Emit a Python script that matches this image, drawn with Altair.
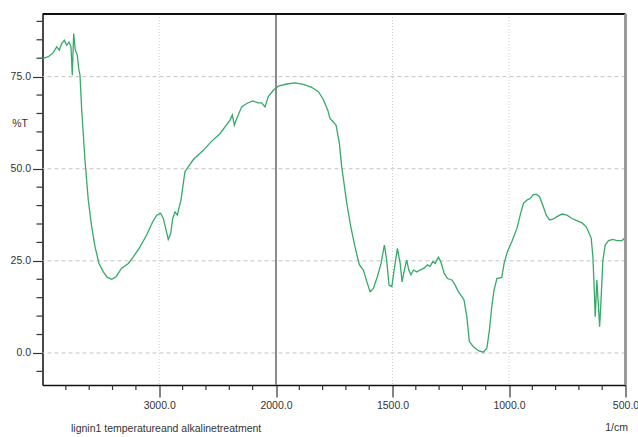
import altair as alt
import pandas as pd

# FTIR spectrum: wavenumber (1/cm) and transmittance (%T)
wavenumber = [
    4000, 3950, 3908, 3878, 3856, 3836, 3813, 3793, 3773, 3756,
    3745, 3733, 3719, 3702, 3690, 3679, 3664, 3636, 3608, 3579,
    3550, 3516, 3479, 3445, 3407, 3370, 3322, 3265, 3222, 3165,
    3108, 3056, 3022, 2988, 2965, 2942, 2923, 2902, 2885, 2865,
    2845, 2828, 2814, 2780, 2708, 2623, 2551, 2480, 2394, 2374,
    2357, 2337, 2294, 2251, 2200, 2152, 2123, 2094, 2066, 2023,
    1990, 1954, 1918, 1883, 1847, 1818, 1797, 1778, 1768, 1754,
    1742, 1728, 1718, 1704, 1696, 1679, 1661, 1642, 1625, 1610,
    1596, 1582, 1565, 1549, 1535, 1525, 1515, 1503, 1493, 1479,
    1467, 1459, 1449, 1439, 1430, 1421, 1410, 1396, 1382, 1364,
    1350, 1339, 1327, 1317, 1303, 1293, 1278, 1264, 1245, 1231,
    1217, 1202, 1193, 1181, 1170, 1153, 1131, 1110, 1095, 1084,
    1074, 1064, 1052, 1031, 1021, 1007, 988, 966, 952, 938,
    923, 909, 897, 883, 869, 855, 840, 826, 812, 794,
    773, 751, 730, 709, 687, 669, 659, 647, 640, 634,
    630, 626, 623, 617, 611, 605, 597, 587, 573, 554,
    537, 515, 500,
]
transmittance = [
    79.9, 80.4, 81.5, 83.1, 82.2, 84.0, 84.9, 83.5, 84.4, 83.1,
    75.4, 86.7, 82.2, 80.8, 77.2, 75.4, 65.9, 52.3, 41.5, 34.3,
    28.8, 24.3, 22.0, 20.5, 20.0, 20.7, 23.0, 24.3, 26.1, 28.8,
    32.0, 35.6, 37.4, 37.9, 36.5, 33.4, 30.8, 32.4, 36.5, 38.3,
    37.4, 39.7, 41.5, 49.2, 52.5, 55.0, 57.5, 59.5, 63.2, 64.6,
    61.8, 63.6, 66.8, 67.7, 68.4, 67.9, 67.9, 66.8, 69.6, 71.3,
    72.4, 73.0, 73.3, 72.9, 72.1, 70.9, 68.8, 65.9, 63.6, 62.7,
    61.8, 56.9, 50.5, 44.2, 40.5, 34.3, 28.8, 23.9, 22.5, 19.3,
    16.6, 17.5, 20.7, 24.3, 29.3, 25.2, 18.4, 18.0, 22.5, 28.4,
    24.3, 19.3, 22.5, 25.2, 22.5, 21.2, 22.5, 22.0, 22.5, 23.0,
    23.9, 23.5, 24.8, 24.3, 26.0, 24.8, 21.6, 20.2, 19.8, 18.4,
    16.6, 15.3, 14.4, 9.8, 3.1, 1.7, 0.6, 0.2, 1.3, 6.2,
    12.6, 17.1, 20.2, 20.5, 24.3, 27.5, 30.2, 33.8, 37.4, 40.6,
    41.5, 41.9, 42.9, 43.1, 42.4, 40.1, 37.4, 36.1, 36.3, 37.0,
    37.7, 37.4, 36.5, 35.9, 35.3, 34.3, 32.9, 31.1, 26.1, 17.1,
    9.8, 15.3, 19.8, 13.5, 7.1, 14.4, 25.2, 29.3, 30.5, 30.8,
    30.5, 30.5, 31.4,
]

# Axis tick positions
x_major = [3000, 2000, 1500, 1000, 500]
x_minor = [3800, 3600, 3400, 3200, 2800, 2600, 2400, 2200,
           1900, 1800, 1700, 1600, 1400, 1300, 1200, 1100, 900, 800, 700, 600]
y_major = [0, 25, 50, 75]
y_minor = [-5, 5, 10, 15, 20, 30, 35, 40, 45, 55, 60, 65, 70, 80, 85, 90]
x_grid = [3000, 1500, 1000]
x_split = [2000]

W, H = 583, 371
FONT = "Liberation Sans, Arial, sans-serif"
TEXT = "#333333"
FS = 10.5

spec = pd.DataFrame({"wn": wavenumber, "T": transmittance})

# Scale expands the 2000-500 region to twice the width per unit of 4000-2000
xscale = alt.Scale(domain=[4000, 2000, 500], range=[0, 233.5, W])
yscale = alt.Scale(domain=[-8.7, 92], nice=False, zero=False)

xaxis = alt.Axis(
    values=x_major, format=".1f",
    tickSize=12, tickColor="#333333", tickWidth=1.2,
    domainColor="#111111", domainWidth=1.5,
    labelFont=FONT, labelFontSize=FS, labelColor=TEXT, labelPadding=3,
    labelOverlap=False, labelBound=False, labelFlush=False,
    grid=False,
    title="lignin1 temperatureand alkalinetreatment",
    titleFont=FONT, titleFontSize=FS, titleFontWeight="normal", titleColor=TEXT,
    titleAlign="left", titleBaseline="middle", titleAnchor="start",
    titleX=28, titleY=43,
)
yaxis = alt.Axis(
    values=y_major, format=".1f",
    tickSize=10, tickColor="#333333", tickWidth=1.2,
    domainColor="#111111", domainWidth=1.5,
    labelFont=FONT, labelFontSize=FS, labelColor=TEXT, labelPadding=2,
    labelOverlap=False, labelBound=False,
    grid=False,
    title="%T", titleAngle=0, titleFont=FONT, titleFontSize=FS,
    titleFontWeight="normal", titleColor=TEXT,
    titleAlign="center", titleBaseline="middle", titleX=-23, titleY=109,
)

hgrid = alt.Chart(pd.DataFrame({"T": y_major})).mark_rule(
    color="#c4c4c4", strokeDash=[4, 3], strokeWidth=1
).encode(y=alt.Y("T:Q", scale=yscale, axis=yaxis))

vgrid = alt.Chart(pd.DataFrame({"wn": x_grid})).mark_rule(
    color="#cfcfcf", strokeDash=[1, 2], strokeWidth=1
).encode(x=alt.X("wn:Q", scale=xscale, axis=xaxis))

split = alt.Chart(pd.DataFrame({"wn": x_split})).mark_rule(
    color="#6e6e6e", strokeWidth=1.6
).encode(x=alt.X("wn:Q", scale=xscale))

# Minor ticks below the x axis and left of the y axis
x_minor_ticks = alt.Chart(pd.DataFrame({"wn": x_minor})).mark_rule(
    color="#333333", strokeWidth=1.2
).encode(x=alt.X("wn:Q", scale=xscale), y=alt.value(H), y2=alt.value(H + 5))

y_minor_ticks = alt.Chart(pd.DataFrame({"T": y_minor})).mark_rule(
    color="#333333", strokeWidth=1.2
).encode(y=alt.Y("T:Q", scale=yscale), x=alt.value(-6), x2=alt.value(0))

line = alt.Chart(spec).mark_line(color="#37a96a", strokeWidth=1.3).encode(
    x=alt.X("wn:Q", scale=xscale, axis=xaxis),
    y=alt.Y("T:Q", scale=yscale, axis=yaxis),
)

top_border = alt.Chart().mark_rule(color="#111111", strokeWidth=2).encode(
    x=alt.value(0), x2=alt.value(W), y=alt.value(0)
)
right_border = alt.Chart().mark_rule(color="#9a9a9a", strokeWidth=3).encode(
    x=alt.value(W), y=alt.value(0), y2=alt.value(H)
)
unit = alt.Chart().mark_text(
    text="1/cm", font=FONT, fontSize=FS, color=TEXT, align="center", baseline="middle"
).encode(x=alt.value(574), y=alt.value(414))

chart = alt.layer(
    hgrid, vgrid, split, x_minor_ticks, y_minor_ticks, line,
    top_border, right_border, unit
).properties(
    width=W, height=H,
    autosize=alt.AutoSizeParams(type="none"),
    padding={"left": 42.5, "top": 14, "right": 12.5, "bottom": 52},
).configure_view(stroke=None).configure(background="white")

chart.save("out.html", embed_options={"renderer": "svg", "actions": False})
